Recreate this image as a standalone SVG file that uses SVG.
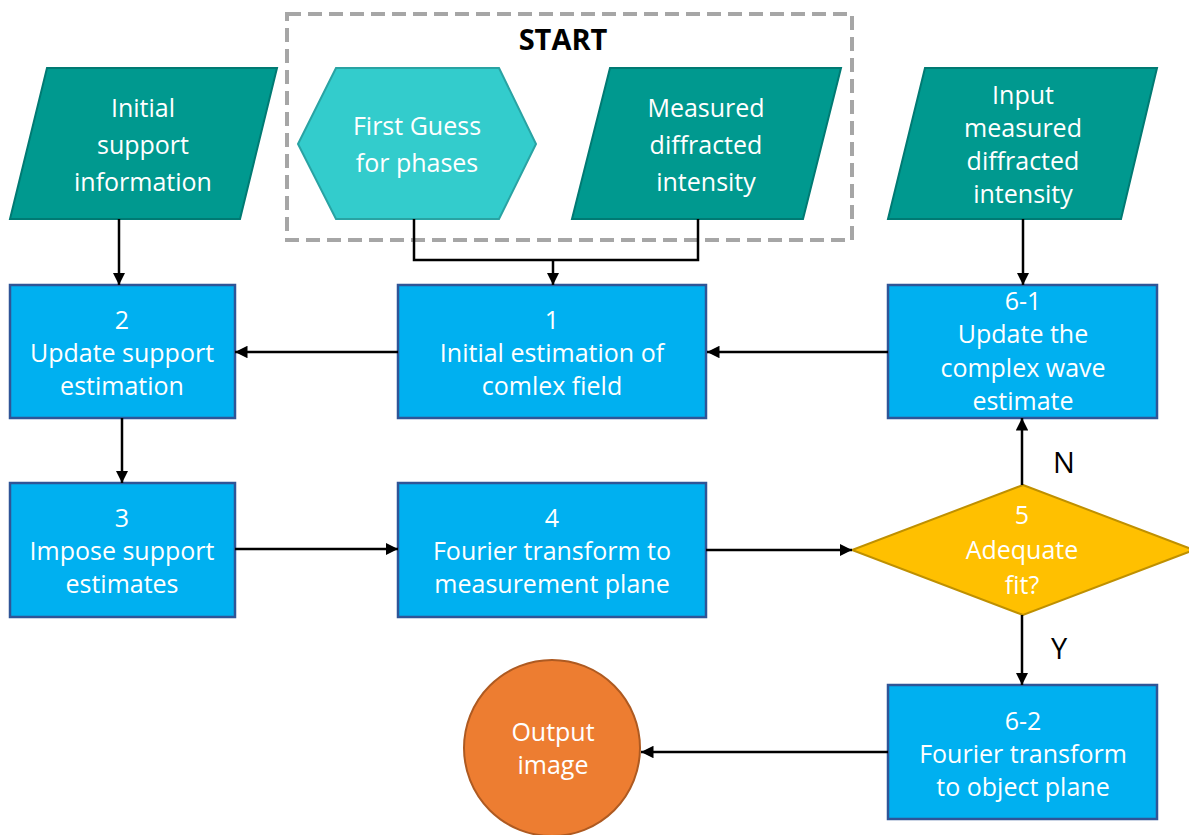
<svg xmlns="http://www.w3.org/2000/svg" width="1189" height="835" viewBox="0 0 1189 835">
  <defs>
    <marker id="arrow" viewBox="0 0 10 10" refX="10" refY="5" markerWidth="5" markerHeight="5" markerUnits="strokeWidth" orient="auto">
      <path d="M0,0 L10,5 L0,10 Z" fill="#000"/>
    </marker>
    <style>
      .lbl { font-family: "Open Sans", "Liberation Sans", sans-serif; font-size: 25px; fill: #fff; text-anchor: middle; }
      .io { fill: #00998F; stroke: #007A73; stroke-width: 2; }
      .hex { fill: #33CCCC; stroke: #29A3A3; stroke-width: 2; }
      .step { fill: #00B0F0; stroke: #2F5597; stroke-width: 2.5; }
      .dec { fill: #FFC000; stroke: #BF9000; stroke-width: 2; }
      .term { fill: #ED7D31; stroke: #AE5A21; stroke-width: 2; }
      .edge { fill: none; stroke: #000; stroke-width: 2.5; }
      .tag { font-family: "Open Sans", "Liberation Sans", sans-serif; font-size: 29px; fill: #000; }
    </style>
  </defs>
  <rect width="1189" height="835" fill="#fff"/>

  <!-- start group frame -->
  <g id="start-frame">
    <rect x="287" y="14" width="565" height="226" fill="none" stroke="#A6A6A6" stroke-width="4" stroke-dasharray="14 7"/>
    <text x="563" y="50" style="font-family:'Open Sans','Liberation Sans',sans-serif;font-size:29px;font-weight:bold;fill:#000;text-anchor:middle">START</text>
  </g>

  <g id="support-info">
    <polygon class="io" points="47,68 277,68 240,219 10,219"/>
    <text class="lbl" x="143" y="117">Initial</text>
    <text class="lbl" x="143" y="154">support</text>
    <text class="lbl" x="143" y="191">information</text>
  </g>

  <g id="first-guess">
    <polygon class="hex" points="298,144 336,68 499,68 536,144 499,219 336,219"/>
    <text class="lbl" x="417" y="135">First Guess</text>
    <text class="lbl" x="417" y="172">for phases</text>
  </g>

  <g id="measured-intensity">
    <polygon class="io" points="610,68 841,68 803,219 572,219"/>
    <text class="lbl" x="706" y="117">Measured</text>
    <text class="lbl" x="706" y="154">diffracted</text>
    <text class="lbl" x="706" y="191">intensity</text>
  </g>

  <g id="input-intensity">
    <polygon class="io" points="925,68 1157,68 1121,219 888,219"/>
    <text class="lbl" x="1023" y="104">Input</text>
    <text class="lbl" x="1023" y="137">measured</text>
    <text class="lbl" x="1023" y="170">diffracted</text>
    <text class="lbl" x="1023" y="203">intensity</text>
  </g>

  <g id="step-1">
    <rect class="step" x="398" y="285" width="308" height="133"/>
    <text class="lbl" x="552" y="329">1</text>
    <text class="lbl" x="552" y="362">Initial estimation of</text>
    <text class="lbl" x="552" y="395">comlex field</text>
  </g>

  <g id="step-2">
    <rect class="step" x="10" y="285" width="225" height="133"/>
    <text class="lbl" x="122" y="329">2</text>
    <text class="lbl" x="122" y="362">Update support</text>
    <text class="lbl" x="122" y="395">estimation</text>
  </g>

  <g id="step-3">
    <rect class="step" x="10" y="483" width="225" height="134"/>
    <text class="lbl" x="122" y="527">3</text>
    <text class="lbl" x="122" y="560">Impose support</text>
    <text class="lbl" x="122" y="593">estimates</text>
  </g>

  <g id="step-4">
    <rect class="step" x="398" y="483" width="308" height="134"/>
    <text class="lbl" x="552" y="527">4</text>
    <text class="lbl" x="552" y="560">Fourier transform to</text>
    <text class="lbl" x="552" y="593">measurement plane</text>
  </g>

  <g id="step-5">
    <polygon class="dec" points="1023,485 1194,550 1023,615 852,550"/>
    <text class="lbl" x="1022" y="524">5</text>
    <text class="lbl" x="1022" y="559">Adequate</text>
    <text class="lbl" x="1022" y="594">fit?</text>
  </g>

  <g id="step-6-1">
    <rect class="step" x="888" y="285" width="269" height="133"/>
    <text class="lbl" x="1023" y="310">6-1</text>
    <text class="lbl" x="1023" y="343">Update the</text>
    <text class="lbl" x="1023" y="377">complex wave</text>
    <text class="lbl" x="1023" y="410">estimate</text>
  </g>

  <g id="step-6-2">
    <rect class="step" x="888" y="685" width="269" height="134"/>
    <text class="lbl" x="1023" y="730">6-2</text>
    <text class="lbl" x="1023" y="763">Fourier transform</text>
    <text class="lbl" x="1023" y="796">to object plane</text>
  </g>

  <g id="output-image">
    <ellipse class="term" cx="552" cy="748" rx="88" ry="88"/>
    <text class="lbl" x="553" y="741">Output</text>
    <text class="lbl" x="553" y="774">image</text>
  </g>

  <g id="connectors">
    <path class="edge" d="M119,219 V285" marker-end="url(#arrow)"/>
    <path class="edge" d="M414,219 V260 H698 V219"/>
    <path class="edge" d="M553,260 V285" marker-end="url(#arrow)"/>
    <path class="edge" d="M1023,219 V285" marker-end="url(#arrow)"/>
    <path class="edge" d="M398,352 H235" marker-end="url(#arrow)"/>
    <path class="edge" d="M888,352 H707" marker-end="url(#arrow)"/>
    <path class="edge" d="M122,418 V483" marker-end="url(#arrow)"/>
    <path class="edge" d="M235,549 H398" marker-end="url(#arrow)"/>
    <path class="edge" d="M706,550 H852" marker-end="url(#arrow)"/>
    <path class="edge" d="M1022,485 V418" marker-end="url(#arrow)"/>
    <path class="edge" d="M1022,615 V685" marker-end="url(#arrow)"/>
    <path class="edge" d="M888,752 H641" marker-end="url(#arrow)"/>
    <text class="tag" x="1053" y="473">N</text>
    <text class="tag" x="1051" y="659">Y</text>
  </g>
</svg>
